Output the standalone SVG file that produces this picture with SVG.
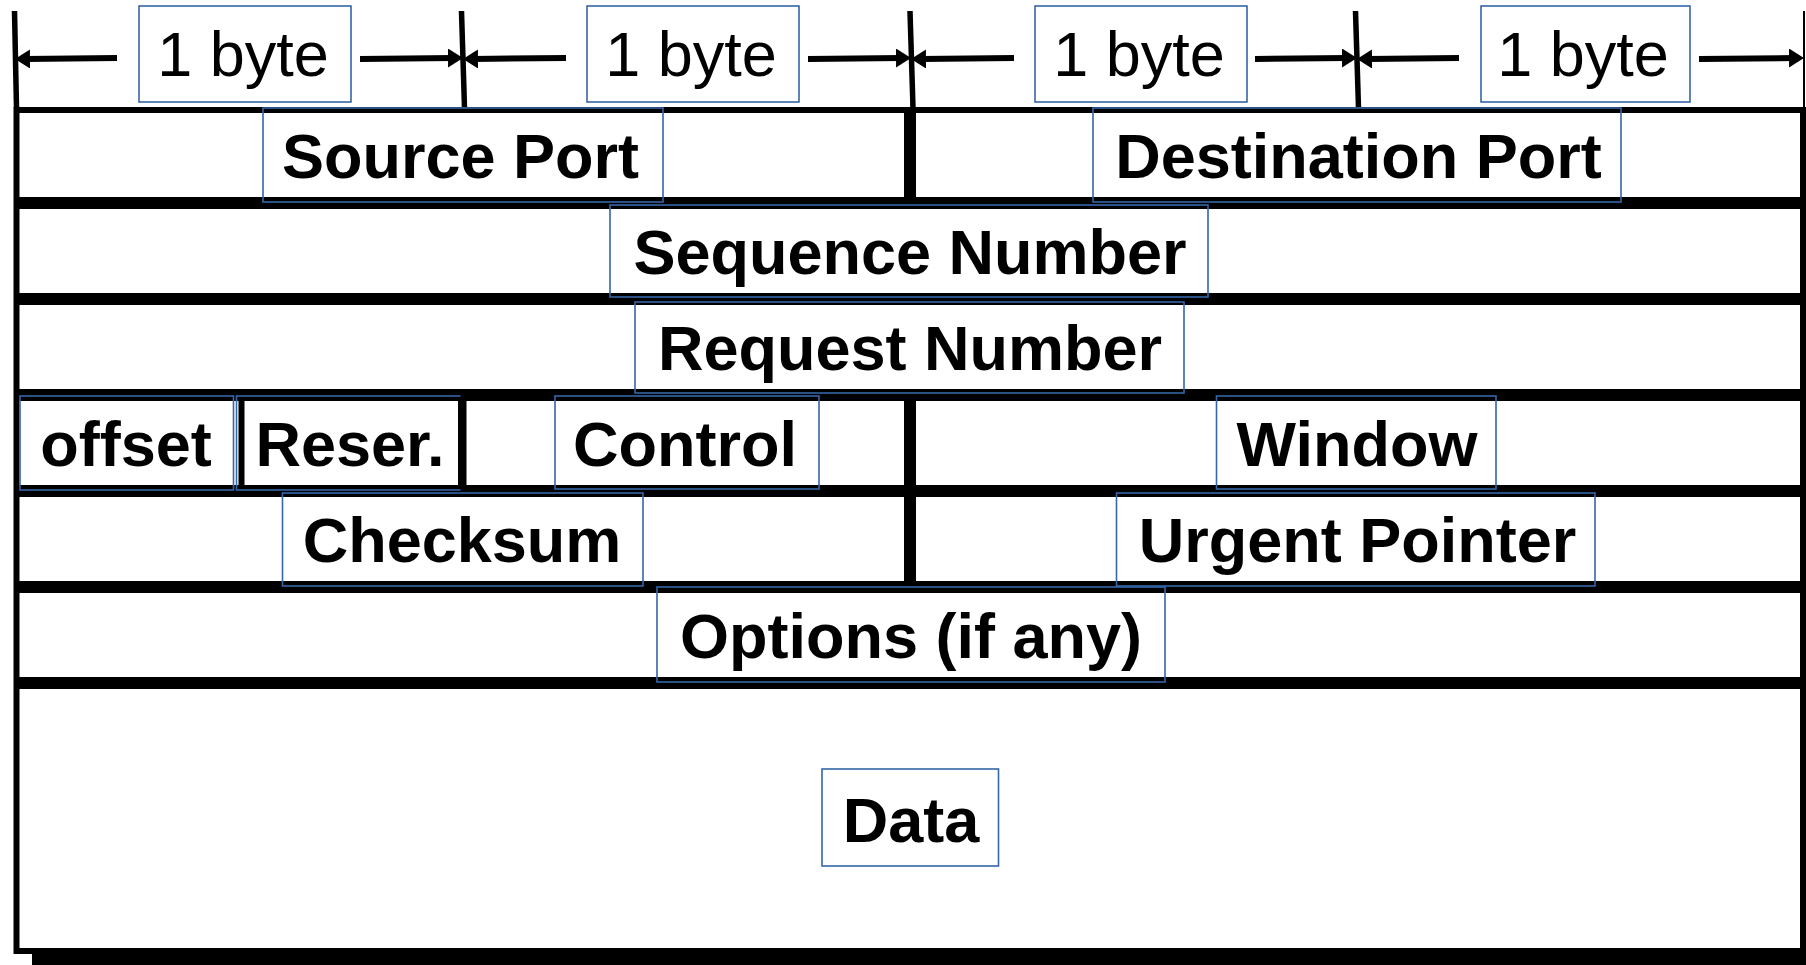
<svg xmlns="http://www.w3.org/2000/svg" width="1806" height="965" viewBox="0 0 1806 965">
  <style>
    .cell { fill: #fff; stroke: #000; stroke-width: 6; }
    .frame { fill: none; stroke: #3566A8; stroke-width: 1.6; }
    .lbl { font-family: "Liberation Sans", Arial, sans-serif; font-size: 63px; font-weight: bold; fill: #000; text-anchor: middle; }
    .byte { font-weight: normal; }
    .tick { stroke: #000; stroke-width: 5.5; fill: none; }
    .dim { stroke: #000; stroke-width: 6; fill: none; marker-end: url(#head); }
  </style>
  <defs>
    <marker id="head" markerUnits="userSpaceOnUse" viewBox="0 0 15 19" markerWidth="15" markerHeight="19" refX="5" refY="9.5" orient="auto">
      <path d="M0,0 L15,9.5 L0,19 z" fill="#000"/>
    </marker>
  </defs>

  <rect width="1806" height="965" fill="#fff"/>

  <!-- byte-width dimension lines -->
  <g id="connectors">
    <line class="tick" x1="14.5" y1="11" x2="16.5" y2="108"/>
    <line class="tick" x1="461.5" y1="11" x2="464.5" y2="108"/>
    <line class="tick" x1="910" y1="11" x2="913" y2="108"/>
    <line class="tick" x1="1355.5" y1="11" x2="1358.5" y2="108"/>
    <line class="tick" x1="1804" y1="11" x2="1804" y2="108" style="stroke-width:2"/>
    <line class="dim" x1="117" y1="58" x2="25" y2="59"/>
    <line class="dim" x1="360" y1="59" x2="453" y2="58"/>
    <line class="dim" x1="566" y1="58" x2="473" y2="59"/>
    <line class="dim" x1="808" y1="59" x2="901" y2="58"/>
    <line class="dim" x1="1014" y1="58" x2="921" y2="59"/>
    <line class="dim" x1="1255" y1="59" x2="1347" y2="58"/>
    <line class="dim" x1="1459" y1="58" x2="1367" y2="59"/>
    <line class="dim" x1="1699" y1="59" x2="1794" y2="58"/>
  </g>

  <g id="byte1"><rect class="frame" x="139" y="6" width="212" height="96"/><text class="lbl byte" x="243" y="76">1 byte</text></g>
  <g id="byte2"><rect class="frame" x="587" y="6" width="212" height="96"/><text class="lbl byte" x="691" y="76">1 byte</text></g>
  <g id="byte3"><rect class="frame" x="1035" y="6" width="212" height="96"/><text class="lbl byte" x="1139" y="76">1 byte</text></g>
  <g id="byte4"><rect class="frame" x="1481" y="6" width="209" height="96"/><text class="lbl byte" x="1583" y="76">1 byte</text></g>

  <!-- row 1 -->
  <g id="source-port">
    <rect class="cell" x="16.5" y="110" width="890.5" height="90"/>
    <rect class="frame" x="263" y="108" width="400" height="94"/>
    <text class="lbl" x="460.5" y="178">Source Port</text>
  </g>
  <g id="destination-port">
    <rect class="cell" x="913" y="110" width="890" height="90"/>
    <rect class="frame" x="1093" y="108" width="528" height="94"/>
    <text class="lbl" x="1358.5" y="178">Destination Port</text>
  </g>

  <!-- row 2 -->
  <g id="sequence-number">
    <rect class="cell" x="16.5" y="206" width="1786.5" height="90"/>
    <rect class="frame" x="610" y="205" width="598" height="92"/>
    <text class="lbl" x="910" y="274">Sequence Number</text>
  </g>

  <!-- row 3 -->
  <g id="request-number">
    <rect class="cell" x="16.5" y="302" width="1786.5" height="90"/>
    <rect class="frame" x="635" y="302" width="549" height="91"/>
    <text class="lbl" x="910" y="370">Request Number</text>
  </g>

  <!-- row 4 -->
  <g id="offset">
    <rect class="cell" x="16.5" y="398" width="890.5" height="90"/>
    <rect class="frame" x="20" y="396" width="213.5" height="94"/>
    <text class="lbl" x="126" y="466">offset</text>
  </g>
  <g id="reserved">
    <rect class="cell" x="241.5" y="398" width="219.5" height="90"/>
    <rect class="frame" x="236.5" y="396" width="226.5" height="94"/>
    <text class="lbl" x="350" y="466">Reser.</text>
  </g>
  <g id="control">
    <rect class="cell" x="463.5" y="398" width="443.5" height="90"/>
    <rect class="frame" x="555" y="396" width="264" height="93"/>
    <text class="lbl" x="685" y="466">Control</text>
  </g>
  <g id="window">
    <rect class="cell" x="913" y="398" width="890" height="90"/>
    <rect class="frame" x="1216.5" y="396" width="279.5" height="93"/>
    <text class="lbl" x="1357" y="466">Window</text>
  </g>

  <!-- row 5 -->
  <g id="checksum">
    <rect class="cell" x="16.5" y="494" width="890.5" height="90"/>
    <rect class="frame" x="282.5" y="493" width="360.5" height="93"/>
    <text class="lbl" x="462" y="562">Checksum</text>
  </g>
  <g id="urgent-pointer">
    <rect class="cell" x="913" y="494" width="890" height="90"/>
    <rect class="frame" x="1116.5" y="493" width="478.5" height="93"/>
    <text class="lbl" x="1357.5" y="562">Urgent Pointer</text>
  </g>

  <!-- row 6 -->
  <g id="options">
    <rect class="cell" x="16.5" y="590" width="1786.5" height="90"/>
    <rect class="frame" x="657" y="587" width="508" height="95"/>
    <text class="lbl" x="911" y="658">Options (if any)</text>
  </g>

  <!-- row 7 with drop shadow -->
  <g id="data">
    <rect x="32" y="701" width="1790" height="270" fill="#000"/>
    <rect class="cell" x="16.5" y="686" width="1786.5" height="265"/>
    <rect class="frame" x="822" y="769" width="176.5" height="97"/>
    <text class="lbl" x="911" y="842">Data</text>
  </g>
</svg>
